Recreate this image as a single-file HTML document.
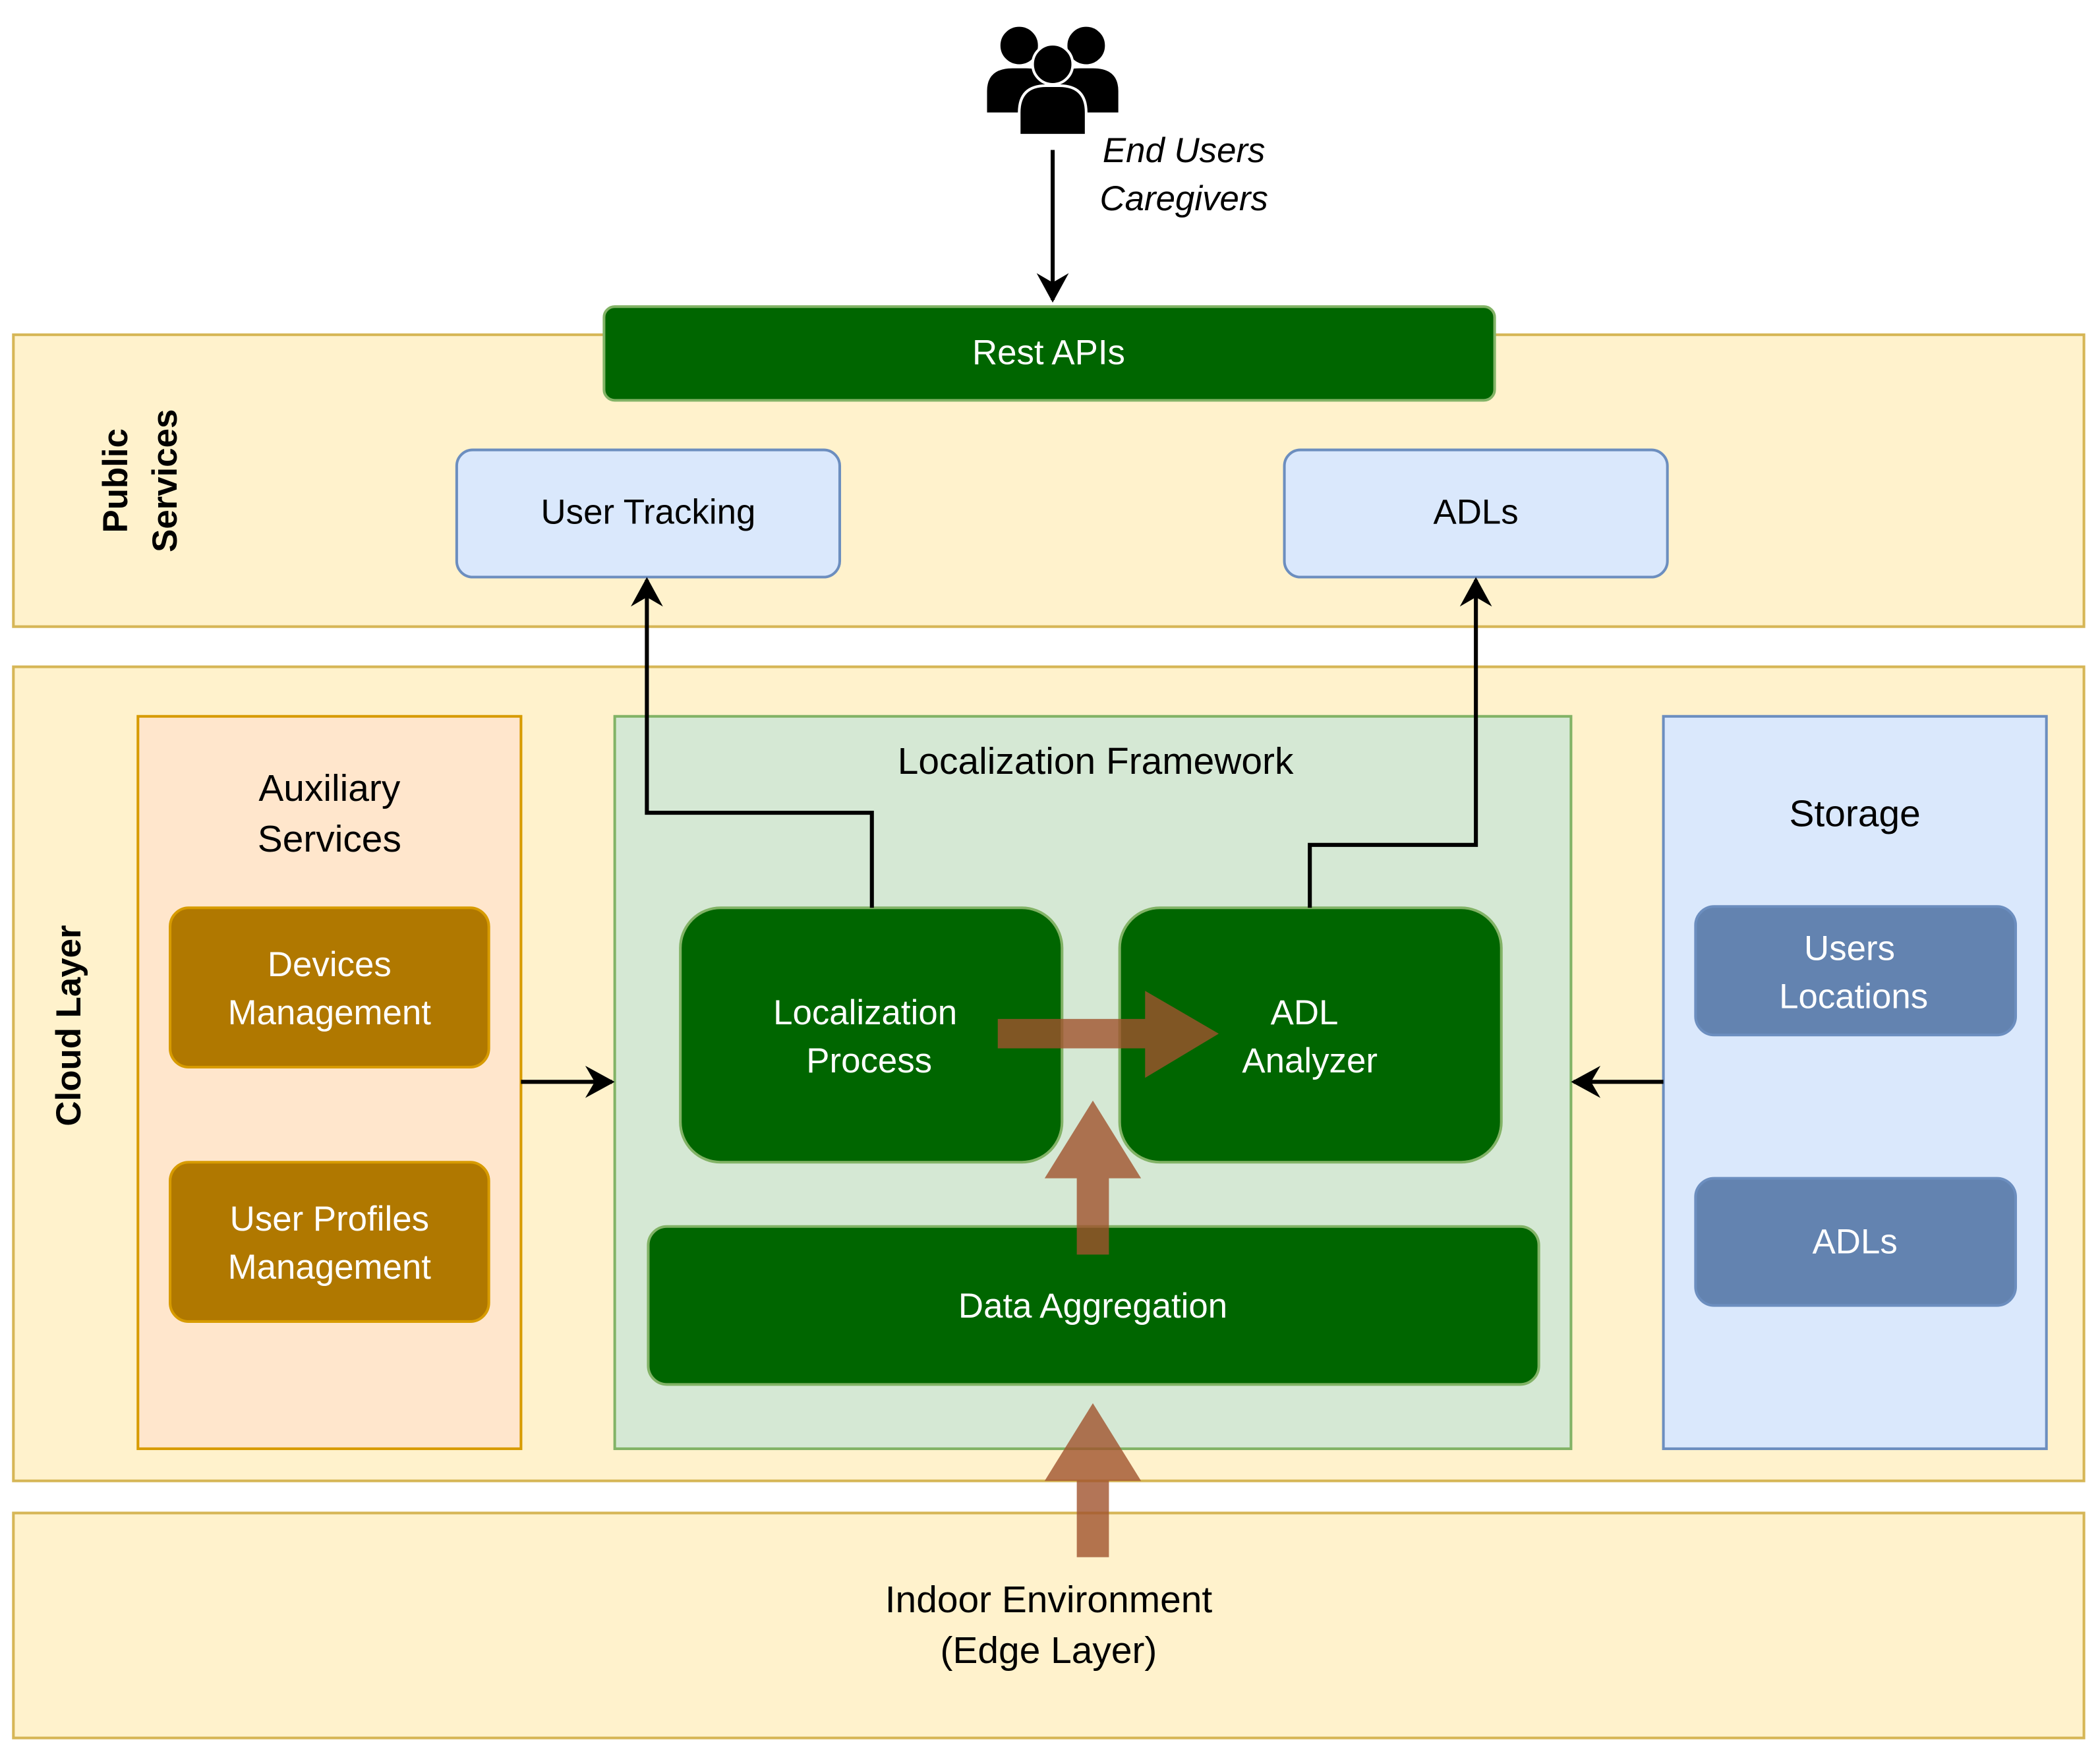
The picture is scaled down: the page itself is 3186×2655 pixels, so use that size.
<!DOCTYPE html>
<html><head><meta charset="utf-8"><style>
html,body{margin:0;padding:0;background:#fff;}
svg{display:block;}
text{font-family:"Liberation Sans",sans-serif;}
</style></head><body>
<svg width="3186" height="2655" viewBox="0 0 1568 1307" preserveAspectRatio="none" xmlns="http://www.w3.org/2000/svg">
<defs>
<marker id="ah" markerWidth="22" markerHeight="24" refX="20" refY="12" orient="auto" markerUnits="userSpaceOnUse">
<path d="M0,0 L22,12 L0,24 L7,12 Z" fill="#000"/>
</marker>
</defs>
<rect x="10" y="250" width="1546" height="218" fill="#fff2cc" stroke="#d6b656" stroke-width="2"/>
<rect x="10" y="498" width="1546" height="608" fill="#fff2cc" stroke="#d6b656" stroke-width="2"/>
<rect x="10" y="1130" width="1546" height="168" fill="#fff2cc" stroke="#d6b656" stroke-width="2"/>

<text transform="translate(95,359) rotate(-90)" text-anchor="middle" font-size="26" font-weight="bold">Public</text>
<text transform="translate(132,359) rotate(-90)" text-anchor="middle" font-size="26" font-weight="bold">Services</text>
<text transform="translate(60,766) rotate(-90)" text-anchor="middle" font-size="26" font-weight="bold">Cloud Layer</text>

<g fill="#000" stroke="#fff" stroke-width="2">
<circle cx="761" cy="34" r="15"/>
<circle cx="811" cy="34" r="15"/>
<path d="M736,85 L736,68 Q736,50 756,50 L766,50 Q786,50 786,68 L786,85 Z"/>
<path d="M786,85 L786,68 Q786,50 806,50 L816,50 Q836,50 836,68 L836,85 Z"/>
<circle cx="786" cy="48" r="15"/>
<path d="M761,101 L761,84 Q761,64 781,64 L791,64 Q811,64 811,84 L811,101 Z"/>
</g>
<text x="884" y="121" text-anchor="middle" font-size="26" font-style="italic">End Users</text>
<text x="884" y="157" text-anchor="middle" font-size="26" font-style="italic">Caregivers</text>
<line x1="786" y1="112" x2="786" y2="224" stroke="#000" stroke-width="3" marker-end="url(#ah)"/>

<rect x="451" y="229" width="665" height="70" rx="8" fill="#006600" stroke="#82b366" stroke-width="2"/>
<text x="783" y="272" text-anchor="middle" font-size="26" fill="#fff">Rest APIs</text>
<rect x="341" y="336" width="286" height="95" rx="12" fill="#dae8fc" stroke="#6c8ebf" stroke-width="2"/>
<text x="484" y="391" text-anchor="middle" font-size="26">User Tracking</text>
<rect x="959" y="336" width="286" height="95" rx="12" fill="#dae8fc" stroke="#6c8ebf" stroke-width="2"/>
<text x="1102" y="391" text-anchor="middle" font-size="26">ADLs</text>

<rect x="103" y="535" width="286" height="547" fill="#ffe6cc" stroke="#d79b00" stroke-width="2"/>
<text x="246" y="598" text-anchor="middle" font-size="28">Auxiliary</text>
<text x="246" y="636" text-anchor="middle" font-size="28">Services</text>
<rect x="127" y="678" width="238" height="119" rx="14" fill="#b07800" stroke="#d79b00" stroke-width="2"/>
<text x="246" y="729" text-anchor="middle" font-size="26" fill="#fff">Devices</text>
<text x="246" y="765" text-anchor="middle" font-size="26" fill="#fff">Management</text>
<rect x="127" y="868" width="238" height="119" rx="14" fill="#b07800" stroke="#d79b00" stroke-width="2"/>
<text x="246" y="919" text-anchor="middle" font-size="26" fill="#fff">User Profiles</text>
<text x="246" y="955" text-anchor="middle" font-size="26" fill="#fff">Management</text>

<rect x="459" y="535" width="714" height="547" fill="#d5e8d4" stroke="#82b366" stroke-width="2"/>
<text x="818" y="578" text-anchor="middle" font-size="28">Localization Framework</text>
<rect x="508" y="678" width="285" height="190" rx="30" fill="#006600" stroke="#82b366" stroke-width="2"/>
<text x="646" y="765" text-anchor="middle" font-size="26" fill="#fff">Localization</text>
<text x="649" y="801" text-anchor="middle" font-size="26" fill="#fff">Process</text>
<rect x="836" y="678" width="285" height="190" rx="30" fill="#006600" stroke="#82b366" stroke-width="2"/>
<text x="974" y="765" text-anchor="middle" font-size="26" fill="#fff">ADL</text>
<text x="978" y="801" text-anchor="middle" font-size="26" fill="#fff">Analyzer</text>
<rect x="484" y="916" width="665" height="118" rx="14" fill="#006600" stroke="#82b366" stroke-width="2"/>
<text x="816" y="984" text-anchor="middle" font-size="26" fill="#fff">Data Aggregation</text>

<rect x="1242" y="535" width="286" height="547" fill="#dae8fc" stroke="#6c8ebf" stroke-width="2"/>
<text x="1385" y="617" text-anchor="middle" font-size="28">Storage</text>
<rect x="1266" y="677" width="239" height="96" rx="14" fill="#6383b0" stroke="#6c8ebf" stroke-width="2"/>
<text x="1381" y="717" text-anchor="middle" font-size="26" fill="#fff">Users</text>
<text x="1384" y="753" text-anchor="middle" font-size="26" fill="#fff">Locations</text>
<rect x="1266" y="880" width="239" height="95" rx="14" fill="#6383b0" stroke="#6c8ebf" stroke-width="2"/>
<text x="1385" y="936" text-anchor="middle" font-size="26" fill="#fff">ADLs</text>

<text x="783" y="1204" text-anchor="middle" font-size="28">Indoor Environment</text>
<text x="783" y="1242" text-anchor="middle" font-size="28">(Edge Layer)</text>

<polyline points="651,678 651,607 483,607 483,433" fill="none" stroke="#000" stroke-width="3" marker-end="url(#ah)"/>
<polyline points="978,678 978,631 1102,631 1102,433" fill="none" stroke="#000" stroke-width="3" marker-end="url(#ah)"/>
<line x1="389" y1="808" x2="457" y2="808" stroke="#000" stroke-width="3" marker-end="url(#ah)"/>
<line x1="1242" y1="808" x2="1175" y2="808" stroke="#000" stroke-width="3" marker-end="url(#ah)"/>

<g fill="#a0522d" fill-opacity="0.8">
<path d="M745,761 L855,761 L855,740 L910,772 L855,805 L855,783 L745,783 Z"/>
<path d="M804,937 L804,880 L780,880 L816,822 L852,880 L828,880 L828,937 Z"/>
<path d="M804,1163 L804,1106 L780,1106 L816,1048 L852,1106 L828,1106 L828,1163 Z"/>
</g>
</svg>
</body></html>
